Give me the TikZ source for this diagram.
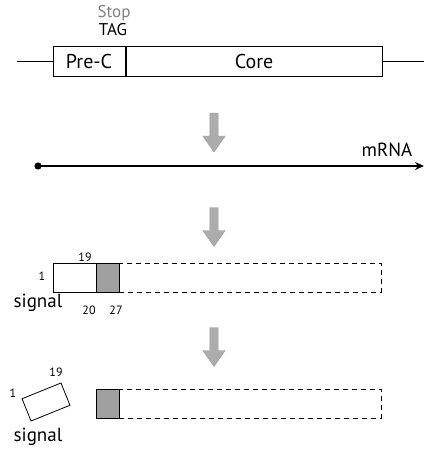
\documentclass[tikz,border=0pt]{standalone}
\usepackage{fontspec}
\setmainfont{PT Sans}
\usetikzlibrary{shapes.arrows,arrows.meta}

\tikzset{
  genebox/.style={draw,thick,fill=white,minimum height=30pt,inner sep=0pt,font=\fontsize{20}{20}\selectfont},
  stepdown/.style={single arrow,draw=gray!80,fill=gray!65,rotate=-90,minimum height=39pt,
    inner xsep=0pt,inner ysep=4pt,single arrow head extend=7pt,single arrow tip angle=70},
  seqbox/.style={draw,thick,minimum height=29pt,inner sep=0pt},
  resbox/.style={seqbox,fill=gray!75,minimum width=23pt},
  restbox/.style={draw,thick,dash pattern=on 5pt off 4pt,minimum height=29pt,minimum width=262pt,inner sep=0pt},
  resnum/.style={font=\fontsize{12}{12}\selectfont},
  lbl/.style={font=\fontsize{19}{19}\selectfont}
}

\begin{document}
\begin{tikzpicture}[x=1pt,y=-1pt]
\useasboundingbox (0,0) rectangle (424,452);
% gene
\node[genebox,minimum width=72pt] (precore) at (89,61) {Pre-C};
\node[genebox,minimum width=256pt] (core) at (254,61) {Core};
\coordinate (genel) at (17,61);
\coordinate (gener) at (424,61);
\draw[thick] (genel) -- (precore.west);
\draw[thick] (core.east) -- (gener);
\node[text=gray,font=\fontsize{17}{17}\selectfont] (stop) at (114,13) {Stop};
\node[font=\fontsize{17}{17}\selectfont] (tag) at (113,30) {TAG};

\node[stepdown] (a1) at (214,129.5) {};

% mRNA
\coordinate (m0) at (38,166);
\coordinate (m1) at (424,166);
\fill (m0) circle (3.6pt);
\draw[line width=1.3pt,-{Stealth[length=9pt,width=8pt]}] (m0) -- (m1);
\node[lbl] (mrna) at (387,150) {mRNA};

\node[stepdown] (a2) at (214,224) {};

% precursor
\node[seqbox,minimum width=43pt] (sig) at (74.5,277.5) {};
\node[restbox] (rest) at (250,277.5) {};
\node[resbox] (pro) at (107.5,277.5) {};
\node[resnum] (n1) at (42,276) {1};
\node[resnum] (n19) at (85,257) {19};
\node[resnum] (n20) at (89,310) {20};
\node[resnum] (n27) at (116,310) {27};
\node[lbl] (sig1) at (38,303) {signal};

\node[stepdown] (a3) at (214,344) {};

% cleaved
\node[seqbox,minimum width=42pt,minimum height=24pt,rotate=22] (sigc) at (46,402) {};
\node[restbox] (restc) at (250,403.5) {};
\node[resbox] (proc) at (107.5,403.5) {};
\node[resnum] (c1) at (13,393) {1};
\node[resnum] (c19) at (56,372) {19};
\node[lbl] (sig2) at (38,437) {signal};
\end{tikzpicture}
\end{document}
